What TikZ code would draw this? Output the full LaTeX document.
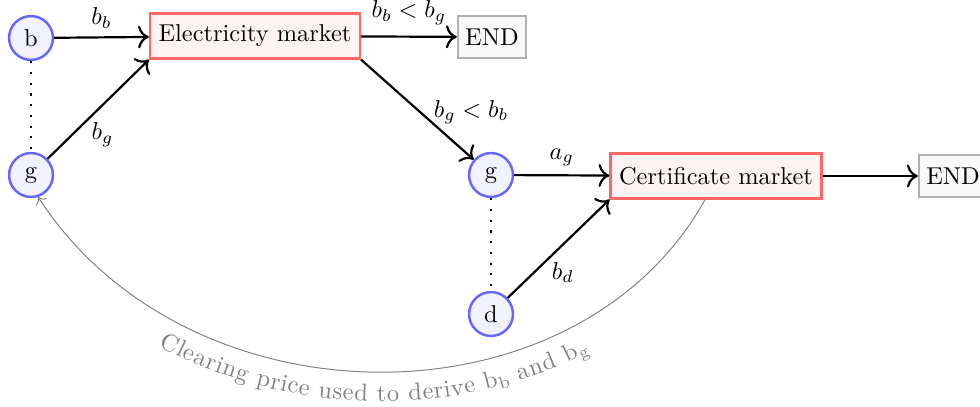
\documentclass[tikz,border=0pt]{standalone}
\usetikzlibrary{decorations.text,arrows.meta}
\begin{document}
\begin{tikzpicture}[x=0.41pt,y=-0.41pt,
  agent/.style={circle,draw=blue!60,fill=blue!5,line width=1pt,minimum size=18pt,inner sep=0pt},
  market/.style={rectangle,draw=red!60,fill=red!5,line width=0.9pt,minimum height=18.5pt,inner sep=3.5pt},
  endbox/.style={rectangle,draw=gray!60,fill=gray!5,line width=0.9pt,minimum height=17.5pt,inner sep=3pt},
  flow/.style={-{Computer Modern Rightarrow[scale=1.25]},line width=0.9pt},
  link/.style={line width=0.9pt,dash pattern=on 0.9pt off 3.5pt},
  feedback/.style={->,gray}]
\useasboundingbox (0,0) rectangle (980,406);
\node[agent] (b) at (31,38) {b};
\node[agent] (gl) at (31,175) {g};
\node[market] (elec) at (255,36) {Electricity market};
\node[endbox] (end1) at (492,37) {END};
\node[agent] (gm) at (491,175) {g};
\node[market] (cert) at (716,176) {Certificate market};
\node[endbox] (end2) at (953,176) {END};
\node[agent] (d) at (491,314) {d};
\draw[link] (b) -- (gl);
\draw[link] (gm) -- (d);
\draw[flow] (b) -- node[above] {$b_b$} (elec);
\draw[flow] (gl) -- node[pos=0.4,below right,inner sep=1pt] {$b_g$} (elec.south west);
\draw[flow] (elec) -- node[above,inner sep=4.5pt] {$b_b<b_g$} (end1);
\draw[flow] (elec.south east) -- node[pos=0.55,right,inner sep=4pt,yshift=1pt] {$b_g<b_b$} (gm);
\draw[flow] (gm) -- node[above] {$a_g$} (cert);
\draw[flow] (d) -- node[pos=0.4,below right,inner sep=1pt] {$b_d$} (cert.south west);
\draw[flow] (cert) -- (end2);
\draw[feedback] ([xshift=-11*0.41pt]cert.south) .. controls (577,430) and (189,430) .. (gl.-72);
\path[decorate,decoration={text along path,text align=center,raise=-12pt,
  text color=gray,
  text={Clearing price used to derive b{\raisebox{-0.35ex}{\scriptsize b}} and b{\raisebox{-0.35ex}{\scriptsize g}}}}]
  (gl.-72) .. controls (189,430) and (577,430) .. ([xshift=-11*0.41pt]cert.south);
\end{tikzpicture}
\end{document}
